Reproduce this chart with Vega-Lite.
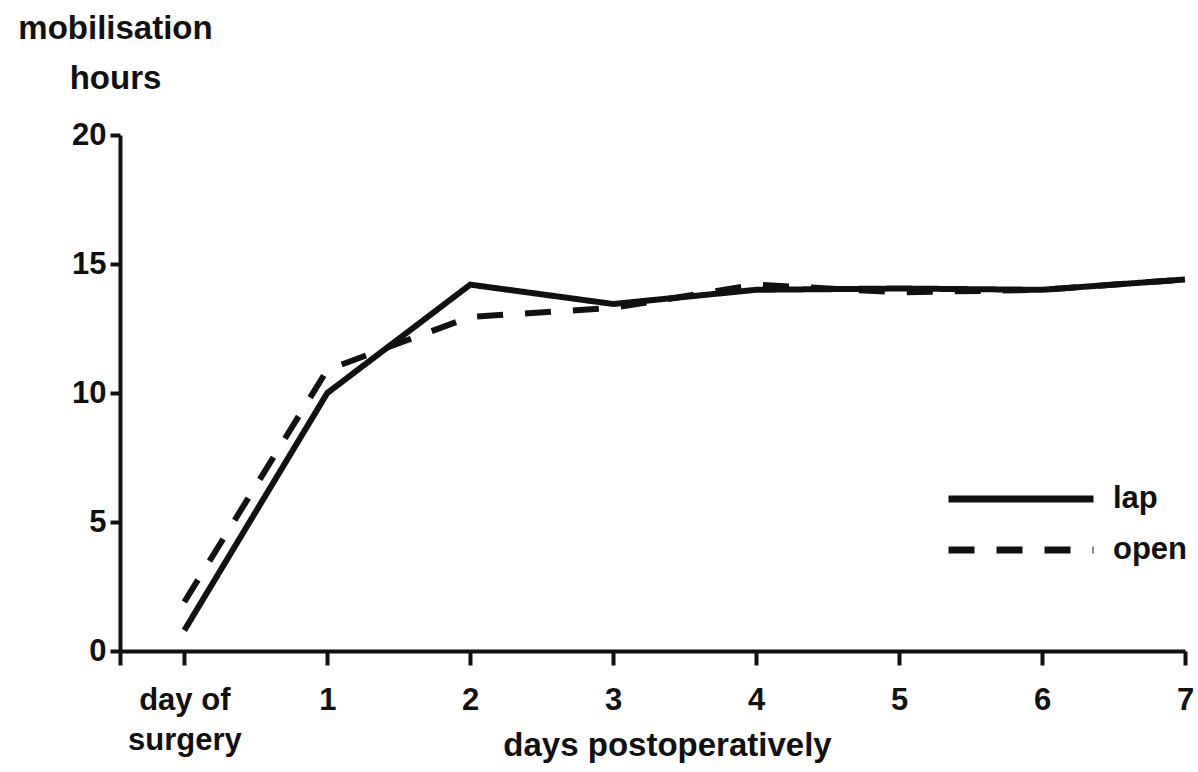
{
  "$schema": "https://vega.github.io/schema/vega-lite/v6.json",
  "autosize": {"type": "none"},
  "width": 1065,
  "height": 516,
  "padding": {"left": 120, "top": 135, "right": 13, "bottom": 121},
  "background": "white",
  "config": {
    "view": {"stroke": null},
    "font": "Liberation Sans",
    "axis": {
      "domainColor": "#111",
      "domainWidth": 4,
      "tickColor": "#111",
      "tickWidth": 4,
      "grid": false,
      "labelFont": "Liberation Sans",
      "labelFontWeight": "bold",
      "labelFontSize": 31,
      "labelColor": "#111",
      "titleFont": "Liberation Sans",
      "titleFontWeight": "bold",
      "titleFontSize": 33,
      "titleColor": "#111"
    },
    "legend": {
      "labelFont": "Liberation Sans",
      "labelFontWeight": "bold",
      "labelFontSize": 31,
      "labelColor": "#111"
    }
  },
  "data": {
    "values": [
      {"day": 0, "hours": 0.8, "group": "lap"},
      {"day": 1, "hours": 10.0, "group": "lap"},
      {"day": 2, "hours": 14.2, "group": "lap"},
      {"day": 3, "hours": 13.45, "group": "lap"},
      {"day": 4, "hours": 14.0, "group": "lap"},
      {"day": 5, "hours": 14.05, "group": "lap"},
      {"day": 6, "hours": 14.0, "group": "lap"},
      {"day": 7, "hours": 14.4, "group": "lap"},
      {"day": 0, "hours": 1.9, "group": "open"},
      {"day": 1, "hours": 10.9, "group": "open"},
      {"day": 2, "hours": 12.95, "group": "open"},
      {"day": 3, "hours": 13.3, "group": "open"},
      {"day": 4, "hours": 14.2, "group": "open"},
      {"day": 5, "hours": 13.9, "group": "open"},
      {"day": 6, "hours": 14.0, "group": "open"},
      {"day": 7, "hours": 14.4, "group": "open"}
    ]
  },
  "mark": {"type": "line", "color": "#111", "strokeWidth": 6, "strokeCap": "butt", "clip": false},
  "encoding": {
    "x": {
      "field": "day",
      "type": "quantitative",
      "scale": {"domain": [-0.45, 7], "nice": false, "zero": false},
      "axis": {
        "values": [-0.45, 0, 1, 2, 3, 4, 5, 6, 7],
        "labelExpr": "datum.value < -0.1 ? '' : (datum.value == 0 ? ['day of', 'surgery'] : datum.label)",
        "labelLineHeight": 40,
        "tickSize": 14,
        "labelPadding": 20,
        "labelBaseline": "top",
        "labelFlush": false,
        "labelOverlap": false,
        "title": "days postoperatively",
        "titleAnchor": "start",
        "titleAlign": "center",
        "titleBaseline": "alphabetic",
        "titleX": 547,
        "titleY": 104
      }
    },
    "y": {
      "field": "hours",
      "type": "quantitative",
      "scale": {"domain": [0, 20], "nice": false},
      "axis": {
        "values": [0, 5, 10, 15, 20],
        "tickSize": 10,
        "labelPadding": 4,
        "labelBaseline": "middle",
        "labelFlush": false,
        "title": ["mobilisation", "hours"],
        "titleAngle": 0,
        "titleAlign": "center",
        "titleAnchor": "start",
        "titleBaseline": "alphabetic",
        "titleLineHeight": 50,
        "titleX": -5,
        "titleY": -97
      }
    },
    "strokeDash": {
      "field": "group",
      "type": "nominal",
      "scale": {"domain": ["lap", "open"], "range": [[1, 0], [26, 22]]},
      "legend": {
        "title": null,
        "orient": "none",
        "legendX": 883,
        "legendY": 346,
        "symbolType": "M-5,0H5",
        "symbolSize": 841,
        "symbolStrokeWidth": 7,
        "symbolStrokeColor": "#111",
        "symbolFillColor": "transparent",
        "labelOffset": 74,
        "rowPadding": 18
      }
    }
  }
}
